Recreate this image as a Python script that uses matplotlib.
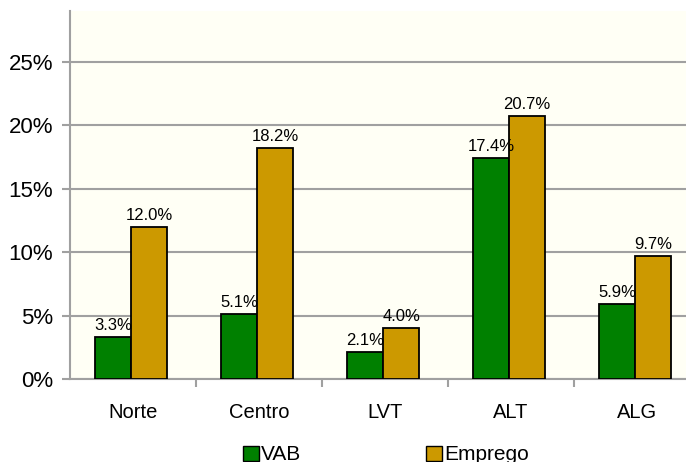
import matplotlib.pyplot as plt
import numpy as np
from matplotlib.ticker import PercentFormatter
from matplotlib.patches import Patch

plt.rcParams['font.family'] = ['Liberation Sans', 'DejaVu Sans']

regioes = ['Norte', 'Centro', 'LVT', 'ALT', 'ALG']
vab = [3.3, 5.1, 2.1, 17.4, 5.9]
emprego = [12.0, 18.2, 4.0, 20.7, 9.7]

cor_vab = '#008000'
cor_emp = '#CC9900'
cinza = '#A0A0A0'

fig = plt.figure(figsize=(6.86, 4.62), dpi=100)
ax = fig.add_axes([70/686, 83/462, 630/686, 368/462])
ax.set_facecolor('#FFFFF5')

x = np.arange(len(regioes))
w = 0.285
b1 = ax.bar(x - w/2 - 0.015, vab, w, color=cor_vab, edgecolor='black', linewidth=1.3, zorder=3)
b2 = ax.bar(x + w/2 - 0.015, emprego, w, color=cor_emp, edgecolor='black', linewidth=1.3, zorder=3)

for barras, vals in ((b1, vab), (b2, emprego)):
    for r, v in zip(barras, vals):
        ax.annotate(f'{v:.1f}%', (r.get_x() + r.get_width()/2, v),
                    xytext=(0, 3), textcoords='offset points',
                    ha='center', va='bottom', fontsize=12, zorder=4)

ax.set_xlim(-0.5, 4.5)
ax.set_ylim(0, 29)
ax.set_yticks([0, 5, 10, 15, 20, 25])
ax.yaxis.set_major_formatter(PercentFormatter(decimals=0))
ax.yaxis.grid(True, color=cinza, linewidth=1.5, zorder=1)

ax.set_xticks(x)
ax.set_xticklabels(regioes)
ax.set_xticks([0.5, 1.5, 2.5, 3.5], minor=True)
ax.tick_params(axis='x', which='major', length=0, pad=17, labelsize=14.5)
ax.tick_params(axis='x', which='minor', length=6, width=1.5, color=cinza, direction='out')
ax.tick_params(axis='y', length=6, width=1.5, color=cinza, pad=6, labelsize=16)

for s in ['top', 'right']:
    ax.spines[s].set_visible(False)
for s in ['left', 'bottom']:
    ax.spines[s].set_color(cinza)
    ax.spines[s].set_linewidth(1.5)

handles = [Patch(facecolor=cor_vab, edgecolor='black', label='VAB'),
           Patch(facecolor=cor_emp, edgecolor='black', label='Emprego')]
fig.legend(handles=handles, loc='center', bbox_to_anchor=(386/686, 7/462),
           ncol=2, frameon=False, fontsize=15, handlelength=0.75, handleheight=0.75,
           handletextpad=0.1, columnspacing=6.0, borderpad=0)

fig.savefig('out.png', dpi=100)
